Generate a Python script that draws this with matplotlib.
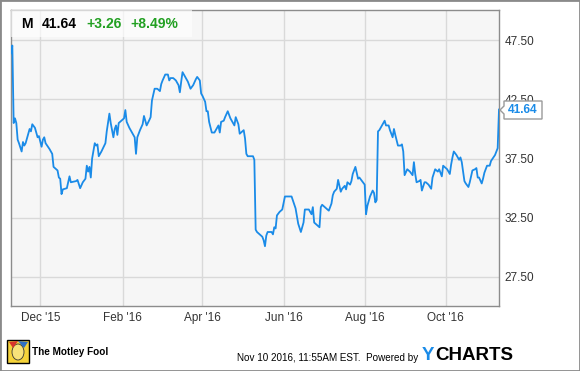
import matplotlib
matplotlib.use("Agg")
import matplotlib.pyplot as plt
from matplotlib.patches import Rectangle, Polygon, Ellipse
import pandas as pd

# Macy's (M) closing prices
dates = [
    "2015-11-09", "2015-11-10", "2015-11-11", "2015-11-12", "2015-11-13", "2015-11-14",
    "2015-11-15", "2015-11-17", "2015-11-18", "2015-11-19", "2015-11-20", "2015-11-22",
    "2015-11-23", "2015-11-24", "2015-11-25", "2015-11-27", "2015-11-29", "2015-11-30",
    "2015-12-02", "2015-12-03", "2015-12-04", "2015-12-05", "2015-12-08", "2015-12-10",
    "2015-12-11", "2015-12-14", "2015-12-15", "2015-12-16", "2015-12-17", "2015-12-18",
    "2015-12-21", "2015-12-22", "2015-12-23", "2015-12-24", "2015-12-28", "2015-12-29",
    "2015-12-31", "2016-01-02", "2016-01-04", "2016-01-05", "2016-01-06", "2016-01-07",
    "2016-01-08", "2016-01-09", "2016-01-11", "2016-01-12", "2016-01-13", "2016-01-14",
    "2016-01-16", "2016-01-19", "2016-01-20", "2016-01-22", "2016-01-23", "2016-01-25",
    "2016-01-26", "2016-01-27", "2016-01-28", "2016-01-29", "2016-02-01", "2016-02-02",
    "2016-02-03", "2016-02-04", "2016-02-06", "2016-02-09", "2016-02-10", "2016-02-11",
    "2016-02-12", "2016-02-14", "2016-02-16", "2016-02-17", "2016-02-19", "2016-02-21",
    "2016-02-22", "2016-02-23", "2016-02-25", "2016-02-27", "2016-02-29", "2016-03-01",
    "2016-03-02", "2016-03-04", "2016-03-06", "2016-03-07", "2016-03-08", "2016-03-10",
    "2016-03-12", "2016-03-14", "2016-03-15", "2016-03-16", "2016-03-17", "2016-03-19",
    "2016-03-21", "2016-03-23", "2016-03-25", "2016-03-27", "2016-03-28", "2016-03-30",
    "2016-03-31", "2016-04-01", "2016-04-03", "2016-04-04", "2016-04-05", "2016-04-06",
    "2016-04-08", "2016-04-10", "2016-04-11", "2016-04-13", "2016-04-14", "2016-04-15",
    "2016-04-17", "2016-04-18", "2016-04-20", "2016-04-22", "2016-04-25", "2016-04-26",
    "2016-04-28", "2016-04-29", "2016-05-01", "2016-05-02", "2016-05-03", "2016-05-04",
    "2016-05-05", "2016-05-09", "2016-05-10", "2016-05-11", "2016-05-12", "2016-05-14",
    "2016-05-16", "2016-05-17", "2016-05-18", "2016-05-19", "2016-05-20", "2016-05-23",
    "2016-05-24", "2016-05-25", "2016-05-26", "2016-05-27", "2016-05-29", "2016-05-31",
    "2016-06-02", "2016-06-04", "2016-06-07", "2016-06-10", "2016-06-12", "2016-06-14",
    "2016-06-16", "2016-06-17", "2016-06-20", "2016-06-21", "2016-06-22", "2016-06-23",
    "2016-06-24", "2016-06-26", "2016-06-28", "2016-06-29", "2016-06-30", "2016-07-02",
    "2016-07-05", "2016-07-07", "2016-07-08", "2016-07-09", "2016-07-11", "2016-07-12",
    "2016-07-14", "2016-07-15", "2016-07-17", "2016-07-18", "2016-07-19", "2016-07-21",
    "2016-07-22", "2016-07-23", "2016-07-25", "2016-07-27", "2016-07-28", "2016-07-30",
    "2016-08-01", "2016-08-02", "2016-08-03", "2016-08-05", "2016-08-07", "2016-08-08",
    "2016-08-09", "2016-08-10", "2016-08-11", "2016-08-12", "2016-08-14", "2016-08-16",
    "2016-08-17", "2016-08-19", "2016-08-20", "2016-08-22", "2016-08-23", "2016-08-24",
    "2016-08-26", "2016-08-28", "2016-08-29", "2016-08-30", "2016-08-31", "2016-09-02",
    "2016-09-04", "2016-09-06", "2016-09-07", "2016-09-08", "2016-09-09", "2016-09-11",
    "2016-09-12", "2016-09-13", "2016-09-15", "2016-09-16", "2016-09-18", "2016-09-20",
    "2016-09-21", "2016-09-23", "2016-09-25", "2016-09-26", "2016-09-27", "2016-09-28",
    "2016-09-29", "2016-09-30", "2016-10-02", "2016-10-04", "2016-10-05", "2016-10-06",
    "2016-10-07", "2016-10-09", "2016-10-10", "2016-10-11", "2016-10-12", "2016-10-13",
    "2016-10-14", "2016-10-15", "2016-10-16", "2016-10-18", "2016-10-19", "2016-10-21",
    "2016-10-23", "2016-10-24", "2016-10-25", "2016-10-26", "2016-10-28", "2016-10-29",
    "2016-10-30", "2016-11-01", "2016-11-03", "2016-11-04", "2016-11-07", "2016-11-08",
    "2016-11-09", "2016-11-10",
]
prices = [
    46.4, 47.05, 40.5, 40.9, 40.5, 39.1,
    38.8, 38.1, 38.9, 38.6, 38.8, 39.6,
    40.0, 39.8, 40.4, 40.1, 39.3, 39.4,
    38.5, 39.1, 39.3, 38.8, 38.3, 37.9,
    36.8, 36.5, 35.9, 35.8, 34.5, 34.9,
    35.0, 35.5, 36.0, 35.5, 35.6, 35.7,
    35.0, 35.5, 35.8, 36.9, 36.4, 36.8,
    35.9, 37.5, 38.8, 38.6, 38.7, 37.7,
    38.1, 38.8, 39.8, 41.3, 40.5, 39.3,
    40.0, 40.3, 39.5, 40.5, 40.8, 40.9,
    41.6, 40.6, 40.1, 39.5, 39.3, 37.9,
    39.3, 39.9, 40.4, 41.1, 40.3, 40.75,
    41.0, 42.4, 43.4, 43.4, 43.2, 43.8,
    44.1, 44.6, 44.6, 44.1, 44.3, 44.3,
    44.1, 43.7, 43.1, 44.0, 44.8, 44.4,
    44.0, 43.4, 43.7, 44.2, 44.4, 44.1,
    43.0, 42.8, 42.3, 41.5, 41.5, 40.6,
    39.7, 39.7, 39.9, 40.3, 39.7, 40.6,
    40.7, 41.0, 41.5, 40.9, 40.3, 41.0,
    40.4, 39.6, 39.8, 39.9, 39.2, 37.9,
    37.7, 37.7, 37.4, 31.5, 31.3, 31.1,
    30.9, 30.6, 30.1, 31.0, 31.3, 31.3,
    31.1, 31.7, 31.6, 32.7, 33.0, 33.2,
    34.3, 34.3, 34.3, 33.3, 32.0, 31.3,
    32.1, 33.2, 33.2, 33.0, 32.8, 33.4,
    32.1, 31.9, 31.7, 33.4, 33.6, 33.4,
    33.1, 33.7, 34.4, 34.7, 34.95, 35.7,
    34.7, 34.95, 35.2, 34.9, 35.5, 35.3,
    35.6, 36.2, 36.8, 35.8, 35.9, 35.6,
    35.3, 32.8, 33.5, 34.3, 34.8, 34.6,
    33.8, 34.0, 39.8, 39.9, 40.3, 40.7,
    40.3, 40.3, 39.9, 39.3, 40.0, 39.5,
    38.6, 38.6, 38.7, 38.1, 36.1, 36.6,
    36.4, 36.1, 37.2, 36.2, 35.5, 35.6,
    35.7, 34.8, 35.5, 35.5, 35.3, 34.95,
    35.9, 36.6, 36.4, 36.6, 36.3, 36.0,
    36.9, 36.8, 36.6, 36.2, 37.0, 37.6,
    38.1, 37.8, 37.6, 37.4, 37.6, 37.2,
    36.4, 35.6, 35.4, 35.1, 35.5, 36.5,
    36.6, 36.7, 35.9, 35.9, 35.4, 35.8,
    36.3, 36.9, 36.9, 37.3, 37.8, 38.1,
    38.38, 41.64,
]

ytick_values = [27.5, 32.5, 37.5, 42.5, 47.5]
xtick_dates = ["2015-12-01", "2016-02-01", "2016-04-01", "2016-06-01", "2016-08-01", "2016-10-01"]
xtick_labels = ["Dec '15", "Feb '16", "Apr '16", "Jun '16", "Aug '16", "Oct '16"]

ticker = "M"
last_price = "41.64"
change = "+3.26"
change_pct = "+8.49%"

W, H = 580, 371
LINE_BLUE = "#1a8be8"
GREEN = "#22a022"

plt.rcParams["font.family"] = ["Liberation Sans", "DejaVu Sans"]


def fx(px):
    return px / W


def fy(py):
    return 1 - py / H


fig = plt.figure(figsize=(W / 100, H / 100), dpi=100)
fig.patch.set_facecolor("white")

ax = fig.add_axes([fx(11), fy(306), (499 - 11) / W, (306 - 10) / H])
ax.set_facecolor("#f6f6f6")

x = pd.to_datetime(dates)
ax.plot(x, prices, color=LINE_BLUE, lw=1.3, zorder=3)

ax.set_xlim(pd.Timestamp("2015-11-09"), pd.Timestamp("2016-11-10"))
ax.set_ylim(25.05, 50.05)

ax.set_xticks(pd.to_datetime(xtick_dates))
ax.set_xticklabels(xtick_labels)
ax.set_yticks(ytick_values)
ax.set_yticklabels([f"{v:.2f}" for v in ytick_values])
ax.yaxis.tick_right()
ax.tick_params(axis="both", length=0, labelsize=8.5, colors="#333333")
ax.tick_params(axis="y", pad=4)
ax.tick_params(axis="x", pad=4)
for lab in ax.get_yticklabels():
    lab.set_horizontalalignment("left")

ax.grid(True, color="#d9d9d9", lw=1)
ax.set_axisbelow(True)
for s in ax.spines.values():
    s.set_color("#8c8c8c")
    s.set_linewidth(1)

# header strip with quote
fig.patches.append(Rectangle((fx(11), fy(37)), (192 - 11) / W, 27 / H,
                             transform=fig.transFigure, facecolor="white",
                             alpha=0.65, edgecolor="none", zorder=5))
hy = fy(23.5)
fig.text(fx(21), hy, ticker, fontsize=10, fontweight="bold", color="black", va="center", zorder=6)
fig.text(fx(42), hy, last_price, fontsize=10, fontweight="bold", color="black", va="center", zorder=6)
fig.text(fx(86), hy, change, fontsize=10, fontweight="bold", color=GREEN, va="center", zorder=6)
fig.text(fx(130), hy, change_pct, fontsize=10, fontweight="bold", color=GREEN, va="center", zorder=6)

# last price flag on the right axis
flag = [(500, 110), (504, 106), (504, 101), (542, 101), (542, 119), (504, 119), (504, 114)]
fig.patches.append(Polygon([(fx(a), fy(b)) for a, b in flag], closed=True,
                           transform=fig.transFigure, facecolor="white",
                           edgecolor="#9a9a9a", lw=1, zorder=5))
fig.text(fx(523), fy(110), last_price, fontsize=8.6, fontweight="bold",
         color=LINE_BLUE, ha="center", va="center", zorder=6)

# footer: Motley Fool logo (simplified) and credits
fig.patches.append(Rectangle((fx(7), fy(363)), 22 / W, 23 / H, transform=fig.transFigure,
                             facecolor="#f5d33a", edgecolor="black", lw=1, zorder=2))
fig.patches.append(Ellipse((fx(18), fy(352)), 12 / W, 16 / H, transform=fig.transFigure,
                           facecolor="#f7e27a", edgecolor="#333333", lw=0.6, zorder=3))
fig.patches.append(Polygon([(fx(9), fy(342)), (fx(18), fy(341)), (fx(13), fy(348))], closed=True,
                           transform=fig.transFigure, facecolor="#d8342c", edgecolor="none", zorder=4))
fig.patches.append(Polygon([(fx(18), fy(341)), (fx(28), fy(342)), (fx(24), fy(348))], closed=True,
                           transform=fig.transFigure, facecolor="#2f6fc2", edgecolor="none", zorder=4))
fig.text(fx(32), fy(352), "The Motley Fool", fontsize=7.2, fontweight="bold",
         color="black", va="center")
fig.text(fx(418), fy(358), "Nov 10 2016, 11:55AM EST.  Powered by", fontsize=7.1,
         color="black", ha="right", va="center")
fig.text(fx(422), fy(355), "Y", fontsize=13.5, fontweight="bold", color="#1a8be8", va="center")
fig.text(fx(435), fy(355), "CHARTS", fontsize=13.5, fontweight="bold", color="black", va="center")

# outer frame
fig.patches.append(Rectangle((0, 0), 1, 1, transform=fig.transFigure, fill=False,
                             edgecolor="#8a8a8a", lw=2, zorder=10))

fig.savefig("out.png", dpi=100)
